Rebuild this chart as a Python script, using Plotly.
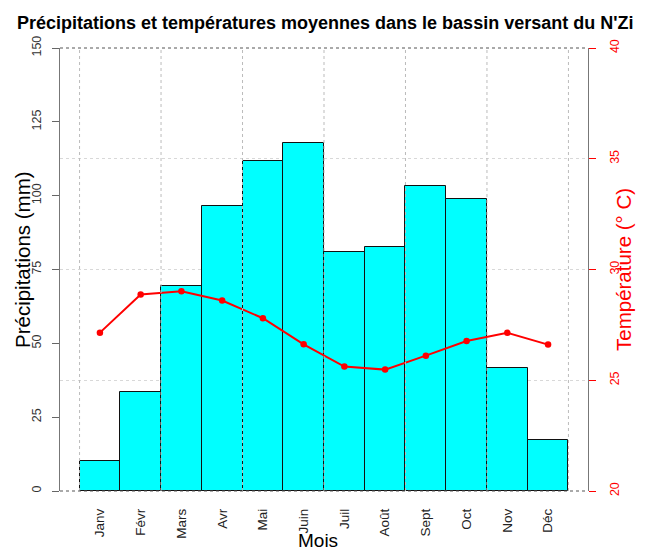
import plotly.graph_objects as go

# Monthly climate normals for the N'Zi catchment
mois = ["Janv", "Févr", "Mars", "Avr", "Mai", "Juin",
        "Juil", "Août", "Sept", "Oct", "Nov", "Déc"]
precipitations_mm = [10, 33.5, 69.5, 96.6, 111.9, 117.7,
                     80.9, 82.5, 103.4, 99.0, 41.8, 17.2]
temperature_c = [27.15, 28.87, 29.02, 28.60, 27.80, 26.62,
                 25.62, 25.48, 26.11, 26.77, 27.14, 26.61]

precip_ticks = [0, 25, 50, 75, 100, 125, 150]
temp_ticks = [20, 25, 30, 35, 40]

FONT = "Liberation Sans, Arial, sans-serif"

fig = go.Figure()

fig.add_trace(go.Bar(
    x=list(range(len(mois))), y=precipitations_mm,
    marker=dict(color="#00FFFF", line=dict(color="#111111", width=1)),
    width=1.0, yaxis="y", showlegend=False,
))

fig.add_trace(go.Scatter(
    x=list(range(len(mois))), y=temperature_c,
    mode="lines+markers",
    line=dict(color="#FF0000", width=2),
    marker=dict(color="#FF0000", size=6.5),
    yaxis="y2", showlegend=False,
))

# vertical dotted grid, every second bar edge, drawn over the bars
for k in range(0, len(mois) + 1, 2):
    fig.add_shape(type="line", xref="x", yref="paper",
                  x0=k - 0.5, x1=k - 0.5, y0=0, y1=1,
                  line=dict(color="#BBBBBB", width=1, dash="dot"),
                  layer="above")

# dotted box top and bottom
for yy in (0, 1):
    fig.add_shape(type="line", xref="paper", yref="paper",
                  x0=0, x1=1, y0=yy, y1=yy,
                  line=dict(color="#555555", width=1, dash="dot"),
                  layer="above")

fig.update_layout(
    width=649, height=552,
    margin=dict(l=60, r=61, t=48, b=61),
    paper_bgcolor="white", plot_bgcolor="white",
    bargap=0,
    title=dict(
        text="<b>Précipitations et températures moyennes dans le bassin versant du N'Zi</b>",
        font=dict(family=FONT, size=18, color="black"),
        x=(326 / 649), xanchor="center", xref="paper",
        y=1 - 23 / 552, yanchor="middle", yref="container",
    ),
    xaxis=dict(
        tickmode="array", tickvals=list(range(len(mois))), ticktext=mois,
        range=[-0.98, 11.98],
        tickangle=-90, ticks="", ticklabelstandoff=14,
        tickfont=dict(family=FONT, size=13.5, color="#222222"),
        showgrid=False, zeroline=False, showline=False,
    ),
    yaxis=dict(
        range=[0, 150], tickvals=precip_ticks,
        tickangle=-90, ticks="outside", ticklen=7, tickcolor="#666666",
        ticklabelstandoff=6,
        tickfont=dict(family=FONT, size=12.5, color="#333333"),
        showgrid=False, zeroline=False,
        showline=True, linecolor="#777777", linewidth=1,
    ),
    yaxis2=dict(
        range=[20, 40], tickvals=temp_ticks, overlaying="y", side="right",
        tickangle=-90, ticks="outside", ticklen=7, tickcolor="#FF0000",
        ticklabelstandoff=8,
        tickfont=dict(family=FONT, size=12.5, color="#FF0000"),
        showgrid=True, gridcolor="#D8D8D8", griddash="dot", gridwidth=1,
        zeroline=False,
        showline=True, linecolor="#777777", linewidth=1,
    ),
    annotations=[
        dict(text="Précipitations (mm)", xref="paper", yref="paper",
             x=(22 - 60) / 528, y=(491 - 260) / 443,
             xanchor="center", yanchor="middle", textangle=-90, showarrow=False,
             font=dict(family=FONT, size=20.5, color="black")),
        dict(text="Température (° C)", xref="paper", yref="paper",
             x=(623 - 60) / 528, y=(491 - 270) / 443,
             xanchor="center", yanchor="middle", textangle=-90, showarrow=False,
             font=dict(family=FONT, size=20.5, color="#FF0000")),
        dict(text="Mois", xref="paper", yref="paper",
             x=(318 - 60) / 528, y=-(540 - 491) / 443,
             xanchor="center", yanchor="middle", showarrow=False,
             font=dict(family=FONT, size=19, color="black")),
    ],
)

fig.write_html("out.html")
